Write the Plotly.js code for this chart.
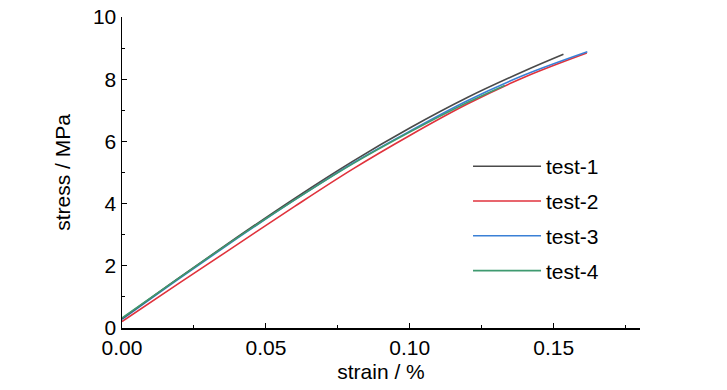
<!DOCTYPE html>
<html>
<head>
<meta charset="utf-8">
<script src="https://cdn.plot.ly/plotly-3.0.1.min.js"></script>
<style>html,body{margin:0;padding:0;background:#fff;}#chart{width:727px;height:390px;}</style>
</head>
<body>
<div id="chart"></div>
<script>
// strain (%) and stress (MPa)
const test1Strain = [0.000, 0.020, 0.040, 0.060, 0.080, 0.100, 0.120, 0.140, 0.1534];
const test1Stress = [0.30, 1.63, 2.92, 4.17, 5.35, 6.43, 7.41, 8.27, 8.80];

const test2Strain = [0.000, 0.020, 0.040, 0.060, 0.080, 0.100, 0.120, 0.140, 0.1615];
const test2Stress = [0.21, 1.45, 2.68, 3.91, 5.10, 6.19, 7.20, 8.07, 8.84];

const test3Strain = [0.000, 0.020, 0.040, 0.060, 0.080, 0.100, 0.120, 0.140, 0.1617];
const test3Stress = [0.28, 1.60, 2.88, 4.12, 5.29, 6.33, 7.31, 8.14, 8.88];

const test4Strain = [0.000, 0.020, 0.040, 0.060, 0.080, 0.100, 0.120, 0.133];
const test4Stress = [0.32, 1.62, 2.90, 4.12, 5.27, 6.30, 7.25, 7.80];

const seriesNames = ["test-1", "test-2", "test-3", "test-4"];
const seriesColors = ["#4a4a4a", "#e0323c", "#3a80d6", "#3f9a70"];

const FONT = '"Liberation Sans Narrow", "Arial Narrow", "Liberation Sans", Arial, sans-serif';

const xs = [test1Strain, test2Strain, test3Strain, test4Strain];
const ys = [test1Stress, test2Stress, test3Stress, test4Stress];

const traces = seriesNames.map((n, i) => ({
  x: xs[i], y: ys[i], name: n, type: 'scatter', mode: 'lines',
  line: {color: seriesColors[i], width: 1.6, shape: 'spline', smoothing: 1},
  legendgroup: 'g' + i, legendrank: i + 1
}));
// draw order: red, blue, black, then green on top
const ordered = [traces[1], traces[2], traces[0], traces[3]];

const layout = {
  width: 727, height: 390,
  margin: {l: 121.5, r: 87, t: 17, b: 62},
  paper_bgcolor: '#fff', plot_bgcolor: '#fff',
  font: {family: FONT, size: 21, color: '#000'},
  showlegend: true,
  legend: {
    x: 0.668, y: 0.585, xanchor: 'left', yanchor: 'top',
    bgcolor: 'rgba(0,0,0,0)', borderwidth: 0,
    font: {family: FONT, size: 21, color: '#000'},
    tracegroupgap: 4.5, traceorder: 'grouped', itemwidth: 68
  },
  xaxis: {
    range: [0, 0.18], showgrid: false, zeroline: false,
    showline: true, linecolor: '#000', linewidth: 1.5,
    ticks: 'inside', ticklen: 5, tickwidth: 1.2, tickcolor: '#000',
    tick0: 0, dtick: 0.05, tickformat: '.2f',
    minor: {ticks: 'inside', ticklen: 3, tickwidth: 1, tickcolor: '#000', dtick: 0.025, showgrid: false},
    tickfont: {family: FONT, size: 21},
    title: {text: 'strain / %', font: {family: FONT, size: 21}, standoff: 6},
    mirror: false
  },
  yaxis: {
    range: [0, 10], showgrid: false, zeroline: false,
    showline: true, linecolor: '#000', linewidth: 1.5,
    ticks: 'inside', ticklen: 5, tickwidth: 1.2, tickcolor: '#000',
    tick0: 0, dtick: 2,
    minor: {ticks: 'inside', ticklen: 3, tickwidth: 1, tickcolor: '#000', dtick: 1, showgrid: false},
    tickfont: {family: FONT, size: 21},
    title: {text: 'stress / MPa', font: {family: FONT, size: 21}, standoff: 16},
    mirror: false
  }
};

Plotly.newPlot('chart', ordered, layout, {displayModeBar: false, staticPlot: true});
</script>
</body>
</html>
